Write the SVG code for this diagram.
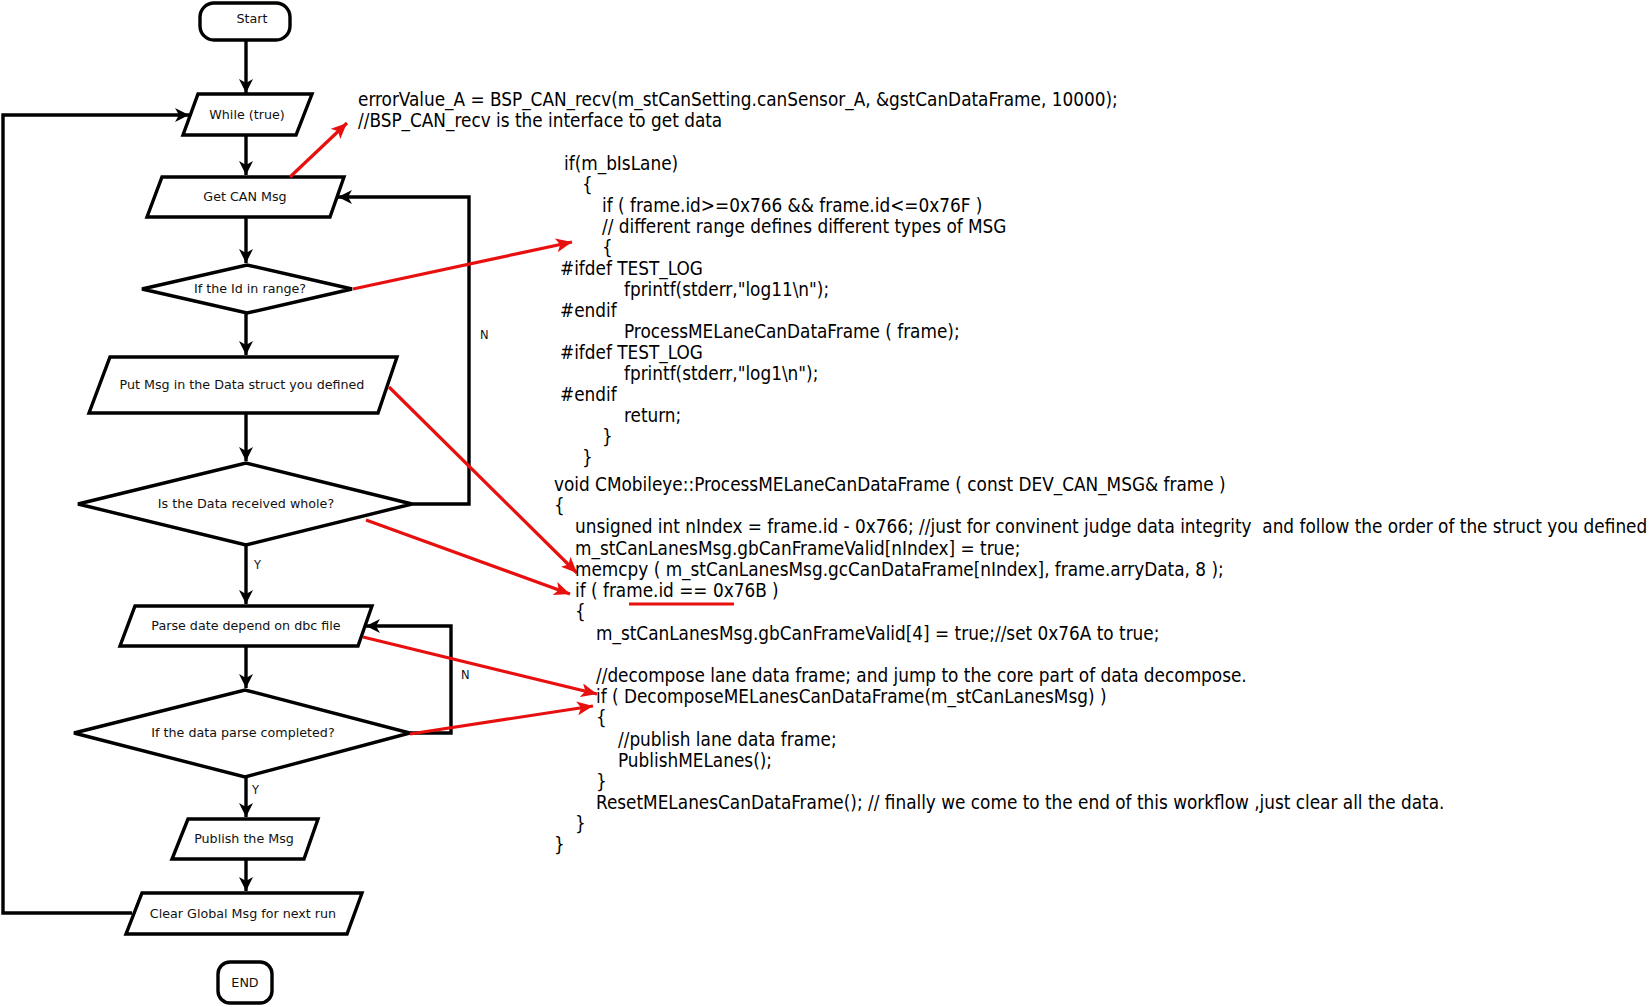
<svg xmlns="http://www.w3.org/2000/svg" width="1651" height="1007" viewBox="0 0 1651 1007">
<style>
.shape{fill:#fff;stroke:#000;stroke-width:3.4;stroke-linejoin:miter}
.lbl{font-family:"DejaVu Sans","Liberation Sans",sans-serif;font-size:12.7px;fill:#111;text-anchor:middle}
.yn{font-family:"DejaVu Sans","Liberation Sans",sans-serif;font-size:11.5px;fill:#111}
.code{font-family:"DejaVu Sans Condensed","DejaVu Sans","Liberation Sans",sans-serif;font-size:18.8px;fill:#000}
.conn{fill:none;stroke:#000;stroke-width:3.4}
.red{fill:none;stroke:#e8100f;stroke-width:3.2}
</style>
<defs>
<marker id="ab" markerUnits="userSpaceOnUse" markerWidth="15" markerHeight="14" refX="14" refY="7" orient="auto">
<path d="M0,0 L14,7 L0,14 L4,7 z" fill="#000"/>
</marker>
<marker id="ar" markerUnits="userSpaceOnUse" markerWidth="17" markerHeight="14" refX="16" refY="7" orient="auto">
<path d="M0,0 L16,7 L0,14 L4,7 z" fill="#e8100f"/>
</marker>
</defs>
<rect width="1651" height="1007" fill="#fff"/>

<g id="connectors">
<line class="conn" x1="246" y1="40" x2="246" y2="93" marker-end="url(#ab)"/>
<line class="conn" x1="246" y1="135" x2="246" y2="175" marker-end="url(#ab)"/>
<line class="conn" x1="246" y1="217" x2="246" y2="263" marker-end="url(#ab)"/>
<line class="conn" x1="246" y1="313" x2="246" y2="355" marker-end="url(#ab)"/>
<line class="conn" x1="246" y1="413" x2="246" y2="461" marker-end="url(#ab)"/>
<line class="conn" x1="246" y1="545" x2="246" y2="604" marker-end="url(#ab)"/>
<line class="conn" x1="246" y1="646" x2="246" y2="688" marker-end="url(#ab)"/>
<line class="conn" x1="246" y1="777" x2="246" y2="817" marker-end="url(#ab)"/>
<line class="conn" x1="246" y1="859" x2="246" y2="891" marker-end="url(#ab)"/>
<polyline class="conn" points="412,504 469,504 469,197 338,197" marker-end="url(#ab)"/>
<polyline class="conn" points="410,733 451,733 451,626 366,626" marker-end="url(#ab)"/>
<polyline class="conn" points="132,913 3,913 3,115 189,115" marker-end="url(#ab)"/>
<text class="yn" x="480" y="339">N</text>
<text class="yn" x="254" y="569">Y</text>
<text class="yn" x="461" y="679">N</text>
<text class="yn" x="252" y="794">Y</text>
</g>

<g id="start">
<rect class="shape" x="200" y="3" width="90" height="37" rx="14"/>
<text class="lbl" x="252" y="23">Start</text>
</g>
<g id="while">
<polygon class="shape" points="198,94 312,94 296,135 183,135"/>
<text class="lbl" x="247" y="119">While (true)</text>
</g>
<g id="getcan">
<polygon class="shape" points="162,177 344,177 330,217 147,217"/>
<text class="lbl" x="245" y="201">Get CAN Msg</text>
</g>
<g id="idrange">
<polygon class="shape" points="142,289 247,265 352,289 247,313"/>
<text class="lbl" x="250" y="293">If the Id in range?</text>
</g>
<g id="putmsg">
<polygon class="shape" points="110,357 397,357 378,413 89,413"/>
<text class="lbl" x="242" y="389">Put Msg in the Data struct you defined</text>
</g>
<g id="whole">
<polygon class="shape" points="78,504 246,463 412,504 246,545"/>
<text class="lbl" x="246" y="508">Is the Data received whole?</text>
</g>
<g id="parse">
<polygon class="shape" points="135,606 372,606 358,646 120,646"/>
<text class="lbl" x="246" y="630">Parse date depend on dbc file</text>
</g>
<g id="completed">
<polygon class="shape" points="74,733 245,690 410,733 245,777"/>
<text class="lbl" x="243" y="737">If the data parse completed?</text>
</g>
<g id="publish">
<polygon class="shape" points="188,819 318,819 304,859 172,859"/>
<text class="lbl" x="244" y="843">Publish the Msg</text>
</g>
<g id="clear">
<polygon class="shape" points="142,893 362,893 347,934 126,934"/>
<text class="lbl" x="243" y="918">Clear Global Msg for next run</text>
</g>
<g id="end">
<rect class="shape" x="218" y="962" width="54" height="41" rx="12"/>
<text class="lbl" x="245" y="987">END</text>
</g>

<g id="annotations">
<line class="red" x1="290" y1="177" x2="347" y2="123" marker-end="url(#ar)"/>
<line class="red" x1="353" y1="289" x2="572" y2="242" marker-end="url(#ar)"/>
<line class="red" x1="389" y1="387" x2="577" y2="573" marker-end="url(#ar)"/>
<line class="red" x1="366" y1="520" x2="570" y2="594" marker-end="url(#ar)"/>
<line class="red" x1="363" y1="637" x2="597" y2="694" marker-end="url(#ar)"/>
<line class="red" x1="410" y1="734" x2="593" y2="706" marker-end="url(#ar)"/>
<line class="red" x1="629" y1="604" x2="734" y2="604"/>
</g>

<g id="code">
<text class="code" x="358" y="106">errorValue_A = BSP_CAN_recv(m_stCanSetting.canSensor_A, &amp;gstCanDataFrame, 10000);</text>
<text class="code" x="358" y="127">//BSP_CAN_recv is the interface to get data</text>
<text class="code" x="564" y="170">if(m_bIsLane)</text>
<text class="code" x="582" y="191">{</text>
<text class="code" x="602" y="212">if ( frame.id&gt;=0x766 &amp;&amp; frame.id&lt;=0x76F )</text>
<text class="code" x="602" y="233">// different range defines different types of MSG</text>
<text class="code" x="602" y="254">{</text>
<text class="code" x="560" y="275">#ifdef TEST_LOG</text>
<text class="code" x="624" y="296">fprintf(stderr,"log11\n");</text>
<text class="code" x="560" y="317">#endif</text>
<text class="code" x="624" y="338">ProcessMELaneCanDataFrame ( frame);</text>
<text class="code" x="560" y="359">#ifdef TEST_LOG</text>
<text class="code" x="624" y="380">fprintf(stderr,"log1\n");</text>
<text class="code" x="560" y="401">#endif</text>
<text class="code" x="624" y="422">return;</text>
<text class="code" x="602" y="443">}</text>
<text class="code" x="582" y="464">}</text>
<text class="code" x="554" y="491">void CMobileye::ProcessMELaneCanDataFrame ( const DEV_CAN_MSG&amp; frame )</text>
<text class="code" x="554" y="512">{</text>
<text class="code" x="575" y="533" xml:space="preserve">unsigned int nIndex = frame.id - 0x766; //just for convinent judge data integrity  and follow the order of the struct you defined</text>
<text class="code" x="575" y="555">m_stCanLanesMsg.gbCanFrameValid[nIndex] = true;</text>
<text class="code" x="575" y="576">memcpy ( m_stCanLanesMsg.gcCanDataFrame[nIndex], frame.arryData, 8 );</text>
<text class="code" x="575" y="597">if ( frame.id == 0x76B )</text>
<text class="code" x="575" y="618">{</text>
<text class="code" x="596" y="640">m_stCanLanesMsg.gbCanFrameValid[4] = true;//set 0x76A to true;</text>
<text class="code" x="596" y="682">//decompose lane data frame; and jump to the core part of data decompose.</text>
<text class="code" x="596" y="703">if ( DecomposeMELanesCanDataFrame(m_stCanLanesMsg) )</text>
<text class="code" x="596" y="724">{</text>
<text class="code" x="618" y="746">//publish lane data frame;</text>
<text class="code" x="618" y="767">PublishMELanes();</text>
<text class="code" x="596" y="788">}</text>
<text class="code" x="596" y="809">ResetMELanesCanDataFrame(); // finally we come to the end of this workflow ,just clear all the data.</text>
<text class="code" x="575" y="830">}</text>
<text class="code" x="554" y="851">}</text>
</g>
</svg>
